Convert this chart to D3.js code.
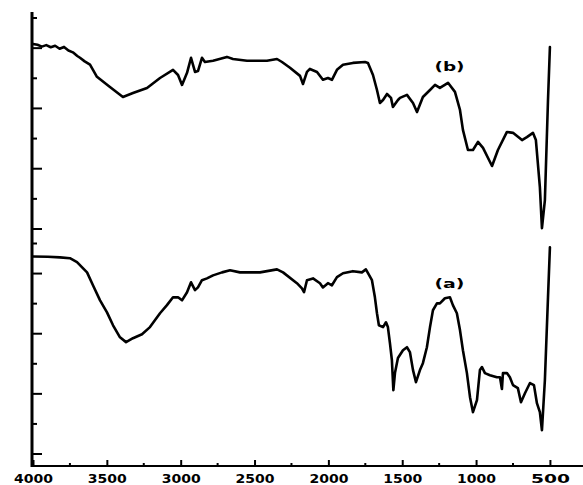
<!DOCTYPE html>
<html>
<head>
<meta charset="utf-8">
<script src="https://cdn.jsdelivr.net/npm/d3@7"></script>
<style>
  html, body { margin: 0; padding: 0; background: #fff; }
  svg { display: block; }
</style>
</head>
<body>
<div id="chart"></div>
<script>
// FTIR spectra: wavenumber (cm-1) vs. transmittance, two samples stacked.
const xTickValues = [4000, 3500, 3000, 2500, 2000, 1500, 1000, 500];
const xMinorValues = [3750, 3250, 2750, 2250, 1750, 1250, 750];
const yTickValues = [10, 20, 30, 40, 50, 60, 70, 80];

// Sample (a) — lower trace
const wavenumberA = [4000, 3900, 3817, 3750, 3702, 3634, 3594, 3546, 3499, 3458, 3411, 3370, 3323, 3262, 3208, 3140, 3093, 3052, 3018, 2991, 2957, 2930, 2903, 2883, 2856, 2822, 2781, 2720, 2666, 2599, 2463, 2348, 2307, 2213, 2179, 2165, 2145, 2104, 2057, 2037, 2003, 1976, 1942, 1901, 1834, 1773, 1746, 1705, 1685, 1671, 1658, 1630, 1610, 1597, 1583, 1570, 1560, 1549, 1529, 1495, 1468, 1448, 1427, 1407, 1380, 1360, 1333, 1312, 1292, 1265, 1245, 1211, 1177, 1157, 1130, 1109, 1089, 1062, 1041, 1021, 994, 974, 960, 940, 906, 859, 838, 825, 818, 791, 771, 750, 717, 696, 669, 635, 608, 588, 568, 554, 534, 513, 500];
const transmittanceA = [75.7, 75.6, 75.4, 75.1, 73.8, 70.4, 66.1, 61.1, 57.1, 52.8, 48.8, 47.2, 48.5, 49.8, 52.2, 56.8, 59.5, 62.1, 62.1, 61.1, 63.8, 67.1, 64.5, 65.4, 67.8, 68.4, 69.4, 70.4, 71.1, 70.4, 70.4, 71.4, 70.4, 66.8, 65.1, 63.8, 67.8, 68.4, 66.8, 65.4, 66.8, 66.1, 68.8, 70.1, 70.8, 70.4, 71.4, 67.8, 62.1, 56.8, 52.8, 52.2, 53.8, 52.2, 46.8, 41.2, 31.2, 37.0, 41.9, 44.5, 45.5, 43.9, 37.9, 33.9, 37.9, 40.2, 45.5, 52.2, 57.8, 60.1, 60.1, 61.8, 62.1, 59.5, 56.8, 51.2, 44.5, 36.9, 28.9, 23.9, 27.9, 37.9, 38.9, 36.9, 36.2, 35.5, 35.5, 31.6, 36.9, 36.9, 35.5, 32.9, 31.9, 27.2, 30.2, 33.6, 32.9, 26.9, 23.9, 17.9, 34.6, 62.1, 78.7];

// Sample (b) — upper trace
const wavenumberB = [4000, 3970, 3940, 3910, 3880, 3850, 3820, 3790, 3760, 3730, 3700, 3682, 3650, 3614, 3567, 3479, 3391, 3323, 3228, 3140, 3052, 3018, 2991, 2957, 2930, 2903, 2883, 2856, 2836, 2781, 2687, 2646, 2551, 2416, 2348, 2314, 2260, 2192, 2172, 2145, 2125, 2077, 2037, 2003, 1976, 1942, 1901, 1834, 1752, 1732, 1698, 1671, 1651, 1630, 1603, 1576, 1563, 1529, 1515, 1468, 1427, 1400, 1360, 1312, 1278, 1245, 1190, 1143, 1109, 1089, 1055, 1021, 987, 953, 892, 852, 791, 750, 689, 656, 615, 595, 568, 554, 534, 513, 500];
const transmittanceB = [71.4, 71.1, 70.5, 71.0, 70.3, 70.8, 69.8, 70.4, 69.2, 68.6, 67.4, 66.8, 65.6, 64.5, 60.5, 57.1, 53.8, 55.1, 56.8, 60.1, 62.8, 61.1, 57.8, 61.8, 66.8, 62.1, 62.4, 66.8, 65.4, 65.8, 67.1, 66.4, 65.8, 65.8, 66.4, 65.4, 63.5, 60.8, 58.1, 62.1, 63.1, 62.1, 59.5, 60.1, 59.5, 62.8, 64.5, 65.1, 65.4, 65.1, 61.1, 56.1, 51.8, 52.8, 54.8, 53.5, 50.5, 52.8, 53.5, 54.5, 51.8, 48.8, 53.8, 56.1, 57.8, 56.8, 58.5, 55.5, 49.5, 42.9, 36.2, 36.2, 38.9, 36.9, 30.9, 36.2, 42.2, 41.9, 39.5, 40.5, 41.9, 39.5, 23.9, 10.3, 19.6, 52.8, 70.4];

const labelA = "(a)", labelB = "(b)";
const labelAt = 1180;

const W = 583, H = 485;
const svg = d3.select("#chart").append("svg").attr("width", W).attr("height", H);

const x = d3.scaleLinear().domain([4000, 276]).range([33, 583]);
const yTop = d3.scaleLinear().domain([10, 80]).range([229, 18]);
const yBot = d3.scaleLinear().domain([10, 80]).range([454, 243.5]);
const axisY = 466;

const font = "'DejaVu Sans', 'Liberation Sans', sans-serif";

// traces
function trace(wn, tr, y) {
  const pts = wn.map((w, i) => [w, tr[i]]);
  svg.append("path")
    .attr("d", d3.line().x(d => x(d[0])).y(d => y(d[1]))(pts))
    .attr("fill", "none")
    .attr("stroke", "#000")
    .attr("stroke-width", 2.6)
    .attr("stroke-linejoin", "round")
    .attr("stroke-linecap", "round");
}
trace(wavenumberB, transmittanceB, yTop);
trace(wavenumberA, transmittanceA, yBot);

// y axis line with inward ticks for both panels
svg.append("line").attr("x1", 32).attr("x2", 32).attr("y1", 12).attr("y2", axisY + 1)
  .attr("stroke", "#000").attr("stroke-width", 3);
[yTop, yBot].forEach(y => {
  svg.append("g").selectAll("line").data(yTickValues).join("line")
    .attr("x1", 32)
    .attr("x2", d => (d % 20 === 10) ? 42 : 37)
    .attr("y1", d => y(d)).attr("y2", d => y(d))
    .attr("stroke", "#000").attr("stroke-width", 2);
});

// x axis
const xAxis = d3.axisBottom(x).tickValues(xTickValues).tickSize(-6).tickFormat(d3.format("d"));
const gx = svg.append("g").attr("transform", `translate(0,${axisY})`).call(xAxis);
gx.select(".domain").attr("stroke", "#000").attr("stroke-width", 2).attr("d", `M31,0H583`);
gx.selectAll(".tick line").attr("stroke", "#000").attr("stroke-width", 2);
gx.selectAll(".tick text")
  .attr("y", 17)
  .attr("dy", 0)
  .attr("fill", "#000")
  .style("font-family", font)
  .style("font-weight", "bold")
  .style("font-size", "13px")
  .attr("textLength", 39)
  .attr("lengthAdjust", "spacingAndGlyphs");
gx.append("g").selectAll("line").data(xMinorValues).join("line")
  .attr("x1", d => x(d)).attr("x2", d => x(d))
  .attr("y1", 0).attr("y2", -3)
  .attr("stroke", "#000").attr("stroke-width", 2);

// sample labels
function label(text, yPos) {
  svg.append("text")
    .attr("x", x(labelAt)).attr("y", yPos)
    .attr("text-anchor", "middle")
    .attr("dominant-baseline", "middle")
    .attr("textLength", 30)
    .attr("lengthAdjust", "spacingAndGlyphs")
    .style("font-family", font)
    .style("font-weight", "bold")
    .style("font-size", "13px")
    .text(text);
}
label(labelB, yTop(63.7));
label(labelA, yBot(66.3));
</script>
</body>
</html>
